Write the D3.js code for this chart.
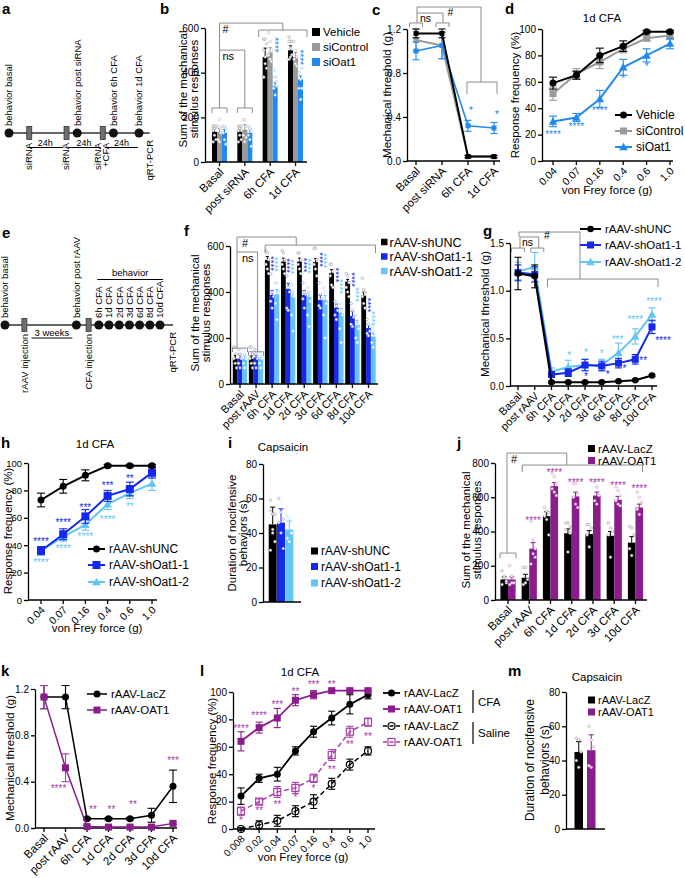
<!DOCTYPE html>
<html><head><meta charset="utf-8">
<script src="https://cdn.jsdelivr.net/npm/d3@7/dist/d3.min.js"></script>
<style>html,body{margin:0;padding:0;background:#fff;}svg{display:block}</style>
</head><body>
<svg id="fig" width="685" height="878"></svg>
<script>
// ================= DATA =================
// a: timeline
const aUpLabels = ["behavior basal","behavior post siRNA","behavior 6h CFA","behavior 1d CFA"];
const aUpSlots = [0, 3.2, 4.9, 6.1];
const aInjLabels = [["siRNA"],["siRNA"],["siRNA","+CFA"]];
const aInjSlots = [0.95, 2.7, 4.4];
const aIntervalLabels = ["24h","24h","24h"];
const aIntervalSpans = [[0.85,2.55],[2.75,4.3],[4.5,6.05]];
// e: timeline
const eUpLabels = ["behavior basal","behavior post rAAV","6h CFA","1d CFA","2d CFA","3d CFA","6d CFA","8d CFA","10d CFA"];
const eUpSlots = [0, 3.5, 4.6, 5.1, 5.6, 6.1, 6.6, 7.1, 7.6];
const eInjLabels = ["rAAV injection","CFA injection"];
const eInjSlots = [0.95, 4.1];

// b
const bCats = ["Basal","post siRNA","6h CFA","1d CFA"];
const bLegend = ["Vehicle","siControl","siOat1"];
const bVehicle = [135,135,470,500];
const bVehicleSem = [15,15,40,20];
const bSiControl = [135,145,490,470];
const bSiControlSem = [15,22,22,20];
const bSiOat1 = [130,130,340,370];
const bSiOat1Sem = [15,20,15,15];
const bVehiclePts = [[160,160,160,140,120,100,90,150],[160,160,160,140,120,100,90,150],[550,550,530,500,470,420,380,440],[560,540,540,540,510,480,460,470]];
const bSiControlPts = [[160,190,130,100,90,150],[190,190,160,120,90,110],[580,540,500,480,460,450],[540,500,470,460,440,430]];
const bSiOat1Pts = [[160,160,150,130,100,80],[160,150,140,120,100,70],[410,380,340,330,300,360],[400,370,330,330,280,420]];
const bStarVals = [524, 468];
const bStarCats = ["6h CFA","1d CFA"];

// c
const cCats = ["Basal","post siRNA","6h CFA","1d CFA"];
const cVehicle = [1.16,1.16,0.04,0.04];
const cVehicleSem = [0.04,0.04,0.01,0.01];
const cSiControl = [1.10,1.05,0.04,0.04];
const cSiControlSem = [0.10,0.12,0.01,0.01];
const cSiOat1 = [1.00,1.05,0.32,0.30];
const cSiOat1Sem = [0.08,0.12,0.05,0.05];
const cStars = ["","","*","*"];
const cStarVals = [0,0,0.48,0.45];

// d
const dCats = ["0.04","0.07","0.16","0.4","0.6","1.0"];
const dVehicle = [59,65,80,87,98,98];
const dVehicleSem = [4.5,3,5.5,4,1,1];
const dSiControl = [51,66,75,85,93,95];
const dSiControlSem = [5,4,5,3,2,3];
const dSiOat1 = [30,33,47,71,80,89];
const dSiOat1Sem = [4,3,6.5,6,5,4];
const dStars = ["****","****","****","*","*",""];
const dStarVals = [21.5,28,40,64,73,0];

// f
const fCats = ["Basal","post rAAV","6h CFA","1d CFA","2d CFA","3d CFA","6d CFA","8d CFA","10d CFA"];
const fLegend = ["rAAV-shUNC","rAAV-shOat1-1","rAAV-shOat1-2"];
const fShUNC = [110,110,539,532,532,530,482,445,384];
const fShUNCSem = [15,12,15,15,15,15,15,10,15];
const fShOat11 = [110,115,387,413,387,365,332,296,243];
const fShOat11Sem = [18,10,20,25,20,20,15,20,15];
const fShOat12 = [108,110,390,380,380,365,309,257,206];
const fShOat12Sem = [15,10,20,20,20,20,20,20,15];
const fShUNCPts = [[160,160,130,110,90,70],[160,160,130,110,90,70],[580,570,540,520,500,480],[580,570,540,520,500,480],[570,570,540,520,500,480],[590,590,540,520,500,470],[520,520,490,470,430,420],[480,470,440,420,400,380],[460,410,400,380,350,330]];
const fShOat11Pts = [[150,130,110,90,70],[150,130,110,90,70],[480,400,380,360,330],[470,420,400,330,320],[440,400,390,370,330],[440,390,370,340,330],[360,340,320,300,280],[350,320,290,260,250],[280,260,230,220,210]];
const fShOat12Pts = [[150,130,110,90,70],[140,120,110,90,70],[440,440,400,350,280],[430,400,380,300,230],[420,400,360,300,250],[420,400,350,300,200],[350,320,300,240,180],[300,260,240,200,180],[250,230,210,180,160]];
const fStarCats = ["6h CFA","1d CFA","2d CFA","3d CFA","6d CFA","8d CFA","10d CFA"];
const fStarBlueVals = [524,515,517,541,474,454,343];
const fStarLightVals = [520,510,512,536,424,389,285];

// g
const gCats = fCats;
const gShUNC = [1.18,1.15,0.04,0.04,0.04,0.04,0.05,0.06,0.11];
const gShUNCSem = [0.17,0.12,0.01,0.01,0.01,0.01,0.01,0.01,0.01];
const gShOat11 = [1.19,1.17,0.12,0.14,0.22,0.21,0.24,0.28,0.62];
const gShOat11Sem = [0.08,0.08,0.03,0.04,0.06,0.05,0.05,0.05,0.07];
const gShOat12 = [1.20,1.25,0.15,0.20,0.22,0.22,0.35,0.52,0.75];
const gShOat12Sem = [0.10,0.15,0.04,0.07,0.06,0.06,0.10,0.08,0.07];
const gLightStars = ["","","","*","*","*","***","****","****"];
const gLightStarVals = [0,0,0,0.34,0.37,0.36,0.51,0.72,0.91];
const gBlueStars = ["","","","","*","*","*","**","****"];
const gBlueStarVals = [0,0,0,0,0.125,0.14,0.2,0.29,0.5];

// h
const hCats = ["0.04","0.07","0.16","0.4","0.6","1.0"];
const hShUNC = [73,83,91,98,98,98];
const hShUNCSem = [5,5,4,1,1,1];
const hShOat11 = [36,48,61,76,81,93];
const hShOat11Sem = [3,4,5,4,5,4];
const hShOat12 = [36,46,55,70,78,85];
const hShOat12Sem = [3,3,4,4,4,5];
const hBlueStars = ["****","****","***","***","**",""];
const hBlueStarVals = [44,58,69,85,90,0];
const hLightStars = ["****","****","****","****","**",""];
const hLightStarVals = [28.5,39,47.5,60.5,70,0];

// i
const iLegend = ["rAAV-shUNC","rAAV-shOat1-1","rAAV-shOat1-2"];
const iMeans = [45,46,42];
const iSem = [10,8,5];
const iPts = [[59,51,51,53,42,35,30,40],[60,52,48,46,40,31],[50,48,40,37,35,40]];

// j
const jCats = ["Basal","post rAAV","6h CFA","1d CFA","2d CFA","3d CFA","10d CFA"];
const jLegend = ["rAAV-LacZ","rAAV-OAT1"];
const jLacZ = [120,130,490,390,385,375,335];
const jLacZSem = [15,20,25,25,20,25,35];
const jOAT1 = [120,300,665,605,610,585,540];
const jOAT1Sem = [15,35,20,25,20,20,20];
const jLacZPts = [[170,130,100,90,140,110],[190,190,120,90,100],[540,520,510,490,470,380],[450,450,430,410,280,390],[440,440,420,380,310],[450,420,400,380,250],[430,420,380,300,260]];
const jOAT1Pts = [[200,140,100,90,100],[460,350,250,210,270,300],[740,720,680,650,630,610],[680,680,620,600,560,540],[690,660,610,580,560],[660,640,610,580,560,550],[630,600,570,530,500]];
const jStars = ["","****","****","****","****","****","****"];
const jStarVals = [0,478,759,700,700,683,660];

// k
const kCats = ["Basal","post rAAV","6h CFA","1d CFA","2d CFA","3d CFA","10d CFA"];
const kLacZ = [1.13,1.13,0.08,0.08,0.08,0.11,0.36];
const kLacZSem = [0.10,0.10,0.01,0.01,0.01,0.06,0.14];
const kOAT1 = [1.13,0.52,0.012,0.008,0.008,0.008,0.04];
const kOAT1Sem = [0.10,0.12,0.01,0.01,0.01,0.01,0.01];
const kStars = ["","****","**","**","**","","***"];
const kStarVals = [0,0.354,0.18,0.18,0.216,0,0.6];
const kStarDx = [0,-7,6,3,3,0,0];

// l
const lCats = ["0.008","0.02","0.04","0.07","0.16","0.4","0.6","1.0"];
const lLacZCFA = [24,37,40,57,71,81,91,98];
const lLacZCFASem = [6,3,5,3,4,5,7,3];
const lOAT1CFA = [64,74,81,94,98,101,101,101];
const lOAT1CFASem = [7,4,7,4,3,1,1,1];
const lLacZSaline = [0,3,6,13,20,33,47,57];
const lLacZSalineSem = [1,3,4,4,5,4,4,3];
const lOAT1Saline = [13,20,27,30,37,54,71,78];
const lOAT1SalineSem = [3,2,4,4,3,4,4,3];
const lTopStars = ["****","****","***","**","***","**","",""];
const lTopStarVals = [74.5,84,92,101.5,106.6,106.6,0,0];
const lBotStars = ["*","**","**","*","*","**","**","**"];
const lBotStarVals = [8,14.6,19.7,24.8,30.7,45,63,69];

// m
const mLegend = ["rAAV-LacZ","rAAV-OAT1"];
const mMeans = [45,46];
const mSem = [6,9];
const mPts = [[53,52,45,40,36],[60,52,48,37,36]];

// ================= HELPERS =================
const svg = d3.select("#fig");
const FONT = '"Liberation Sans", Arial, Helvetica, sans-serif';
const BLACK="#000", GRAY="#9a9a9a", BLUE="#2289f0", DBLUE="#1428ee", LBLUE="#62c6f5",
      PURPLE="#8b1c8b", LPURPLE="#a840a8", BRK="#8c8c8c";

function T(x, y, s, fs, opt) {
  opt = opt || {};
  const t = svg.append("text").attr("x", x).attr("y", y).text(s)
    .attr("font-family", FONT).attr("font-size", fs)
    .attr("fill", opt.fill || BLACK).attr("text-anchor", opt.anchor || "start");
  if (opt.bold) t.attr("font-weight", "bold");
  return t;
}
function RT(cx, cy, s, fs, anchor, rot, fill) {
  return svg.append("text").attr("transform", `translate(${cx},${cy}) rotate(${rot == null ? -90 : rot})`)
    .attr("dy", "0.35em").attr("text-anchor", anchor || "middle")
    .attr("font-family", FONT).attr("font-size", fs).attr("fill", fill || BLACK).text(s);
}
function L(x1, y1, x2, y2, color, w, dash) {
  const l = svg.append("line").attr("x1", x1).attr("y1", y1).attr("x2", x2).attr("y2", y2)
    .attr("stroke", color || BLACK).attr("stroke-width", w || 1);
  if (dash) l.attr("stroke-dasharray", dash);
  return l;
}
function P(d, color, w) {
  return svg.append("path").attr("d", d).attr("fill", "none").attr("stroke", color || BRK).attr("stroke-width", w || 1);
}
function bracket(x1, x2, yy, tick, color) {
  P(`M${x1},${yy + tick}V${yy}H${x2}V${yy + tick}`, color || BRK, 1);
}
function yAxis(x0, y, ticks, fmt, fs) {
  const g = svg.append("g").attr("transform", `translate(${x0},0)`)
    .call(d3.axisLeft(y).tickValues(ticks).tickFormat(d3.format(fmt)).tickSize(4).tickSizeOuter(0).tickPadding(2));
  g.attr("font-family", FONT).attr("font-size", fs || 10);
  g.select(".domain").attr("stroke-width", 1.3);
  g.selectAll(".tick line").attr("stroke-width", 1.3);
}
function xAxis(x, y0, xa, xb, cats, fs) {
  L(xa, y0, xb, y0, BLACK, 1.3);
  if (!cats) return;
  cats.forEach(c => {
    const px = x(c);
    L(px, y0, px, y0 + 4, BLACK, 1.3);
    RT(px + 2, y0 + 8, c, fs, "end", -45);
  });
}
function yLabel(lines, xLast, cy, fs, gap) {
  const n = lines.length;
  lines.forEach((s, i) => RT(xLast - (n - 1 - i) * gap, cy, s, fs, "middle", -90));
}
function marker(type, cx, cy, sz, color, open) {
  let el;
  if (type === "circle") el = svg.append("circle").attr("cx", cx).attr("cy", cy).attr("r", sz / 2);
  else if (type === "square") el = svg.append("rect").attr("x", cx - sz / 2).attr("y", cy - sz / 2).attr("width", sz).attr("height", sz);
  else el = svg.append("path").attr("d", d3.symbol(d3.symbolTriangle, sz * sz * 0.5)()).attr("transform", `translate(${cx},${cy + 0.8})`);
  if (open) el.attr("fill", "none").attr("stroke", color).attr("stroke-width", 1.2);
  else el.attr("fill", color);
  return el;
}
function lineSeries(x, y, cats, vals, errs, o) {
  const pts = cats.map((c, i) => [x(c), y(vals[i])]);
  const p = svg.append("path").attr("d", d3.line()(pts)).attr("fill", "none")
    .attr("stroke", o.color).attr("stroke-width", o.lw || 2);
  if (o.dash) p.attr("stroke-dasharray", o.dash);
  const cw = o.cap || 7;
  cats.forEach((c, i) => {
    const px = x(c), v = vals[i], e = errs[i];
    if (e > 0) {
      L(px, y(v - e), px, y(v + e), o.ecolor || o.color, 1.1);
      L(px - cw / 2, y(v + e), px + cw / 2, y(v + e), o.ecolor || o.color, 1.1);
      L(px - cw / 2, y(v - e), px + cw / 2, y(v - e), o.ecolor || o.color, 1.1);
    }
  });
  cats.forEach((c, i) => marker(o.mk, x(c), y(vals[i]), o.sz || 7, o.color, o.open));
}
function legendLine(x1, x2, yy, label, fs, o) {
  const l = L(x1, yy, x2, yy, o.color, o.lw || 2);
  if (o.dash) l.attr("stroke-dasharray", o.dash);
  marker(o.mk, (x1 + x2) / 2, yy, o.sz || 7, o.color, o.open);
  T(x2 + 4, yy + fs * 0.36, label, fs);
}
function legendSq(x, yy, sz, color, label, fs, gap) {
  svg.append("rect").attr("x", x).attr("y", yy - sz / 2).attr("width", sz).attr("height", sz).attr("fill", color);
  T(x + sz + (gap || 3), yy + fs * 0.36, label, fs);
}
function bars(x, y, cats, series, bw, step) {
  const n = series.length;
  series.forEach((s, i) => {
    const off = (i - (n - 1) / 2) * step;
    cats.forEach((c, j) => {
      const cx = x(c) + off, v = s.vals[j], e = s.err[j];
      svg.append("rect").attr("x", cx - bw / 2).attr("y", y(v)).attr("width", bw)
        .attr("height", y(0) - y(v)).attr("fill", s.color);
      L(cx, y(v), cx, y(v + e), s.color, 1);
      L(cx - bw * 0.32, y(v + e), cx + bw * 0.32, y(v + e), s.color, 1);
      if (s.pts) s.pts[j].forEach((p, k) => {
        const dx = ((k % 3) - 1) * bw * 0.28;
        svg.append("circle").attr("cx", cx + dx).attr("cy", y(p)).attr("r", 1.3)
          .attr("fill", "#fff").attr("stroke", s.pc).attr("stroke-width", 0.6);
      });
    });
  });
}
function stars(x, y, cats, labels, vals, color, fs, dx) {
  labels.forEach((s, i) => {
    if (!s) return;
    T(x(cats[i]) + (dx ? dx[i] : 0), y(vals[i]) + fs * 0.55, s, fs, { fill: color, anchor: "middle" });
  });
}
function vstars(cx, cy, s, color, fs) {
  svg.append("text").attr("transform", `translate(${cx},${cy}) rotate(90)`).attr("dy", "0.55em")
    .attr("text-anchor", "middle").attr("font-family", FONT).attr("font-size", fs).attr("fill", color).text(s);
}
function panelLabel(s, x, y) { T(x, y, s, 15, { bold: true }); }

// ================= PANEL a =================
panelLabel("a", 2, 14);
(function () {
  const ax = d3.scaleLinear().domain([0, 6.1]).range([9, 139]);
  const yy = 133;
  L(ax(0), yy, ax(6.6), yy, "#333", 1.5);
  aIntervalSpans.forEach((s, i) => {
    L(ax(s[0]), yy + 14.5, ax(s[1]), yy + 14.5, BLACK, 1.2);
    T((ax(s[0]) + ax(s[1])) / 2, yy + 12.5, aIntervalLabels[i], 9, { anchor: "middle" });
  });
  aInjSlots.forEach((t, i) => {
    svg.append("rect").attr("x", ax(t) - 2.5).attr("y", yy - 6.5).attr("width", 5).attr("height", 13)
      .attr("fill", "#6f6f6f").attr("stroke", "#333").attr("stroke-width", 0.8);
    const lines = aInjLabels[i];
    lines.forEach((s, k) => RT(ax(t) - 1 + (k - (lines.length - 1) / 2) * 8, yy + 10, s, 9.5, "end"));
  });
  aUpSlots.forEach((t, i) => {
    svg.append("circle").attr("cx", ax(t)).attr("cy", yy).attr("r", 4.5).attr("fill", "#111");
    RT(ax(t), yy - 7, aUpLabels[i], 9.5, "start");
  });
  RT(ax(6.6), yy + 7, "qRT-PCR", 9.5, "end");
})();

// ================= PANEL b =================
panelLabel("b", 160, 14);
(function () {
  const x = d3.scalePoint().domain(bCats).range([219.5, 295.5]);
  const y = d3.scaleLinear().domain([0, 600]).range([162, 28]);
  bars(x, y, bCats, [
    { vals: bVehicle, err: bVehicleSem, color: BLACK, pts: bVehiclePts, pc: "#999" },
    { vals: bSiControl, err: bSiControlSem, color: GRAY, pts: bSiControlPts, pc: "#bbb" },
    { vals: bSiOat1, err: bSiOat1Sem, color: BLUE, pts: bSiOat1Pts, pc: "#8cc4fa" }
  ], 5, 5);
  yAxis(205, y, [0, 200, 400, 600], "d", 10);
  xAxis(x, 162, 205, 307, bCats, 11.5);
  yLabel(["Sum of the mechanical", "stimulus responses"], 194, 89, 11.5, 11);
  bStarCats.forEach((c, i) => vstars(x(c) + 6, y(bStarVals[i]), "****", BLUE, 10));
  // brackets
  bracket(x("Basal") - 7.5, x("Basal") + 7.5, y(242), 5);
  bracket(x("post siRNA") - 7.5, x("post siRNA") + 7.5, y(242), 5);
  P(`M${x("Basal")},${y(242)}V${y(501)}H${x("post siRNA")}V${y(242)}`);
  T(x("Basal") + 3, y(501) + 10, "ns", 11);
  const mid = (x("6h CFA") + x("1d CFA")) / 2;
  P(`M${x("Basal")},${y(501)}V${y(622)}H${mid}V${y(591)}`);
  T(x("Basal") + 3, y(622) + 10, "#", 11);
  bracket(x("6h CFA") - 11.5, x("1d CFA") + 11.5, y(591), 7);
  legendSq(312, 32, 8, BLACK, bLegend[0], 11.5, 3);
  legendSq(312, 47, 8, GRAY, bLegend[1], 11.5, 3);
  legendSq(312, 62, 8, BLUE, bLegend[2], 11.5, 3);
})();

// ================= PANEL c =================
panelLabel("c", 372, 15);
(function () {
  const x = d3.scalePoint().domain(cCats).range([416, 494]);
  const y = d3.scaleLinear().domain([0, 1.2]).range([161, 29]);
  yAxis(407, y, [0, 0.4, 0.8, 1.2], ".1f", 10);
  xAxis(x, 161, 407, 500, cCats, 11.5);
  yLabel(["Mechanical threshold (g)"], 387, 95, 11.5, 11);
  lineSeries(x, y, cCats, cSiControl, cSiControlSem, { color: GRAY, mk: "square", sz: 5, lw: 2, cap: 7 });
  lineSeries(x, y, cCats, cSiOat1, cSiOat1Sem, { color: BLUE, mk: "square", sz: 5, lw: 1.6, cap: 7 });
  lineSeries(x, y, cCats, cVehicle, cVehicleSem, { color: BLACK, mk: "square", sz: 5, lw: 2, cap: 7 });
  stars(x, y, cCats, cStars, cStarVals, BLUE, 11, [0, 0, 3, 3]);
  bracket(x("Basal") - 6.5, x("Basal") + 6.5, y(1.255), 4);
  bracket(x("post siRNA") - 6, x("post siRNA") + 7, y(1.255), 4);
  P(`M${x("Basal") + 1},${y(1.255)}V${y(1.345)}H${x("post siRNA") + 1}V${y(1.255)}`);
  T(x("Basal") + 4, y(1.345) + 9, "ns", 10.5);
  const mid = (x("6h CFA") + x("1d CFA")) / 2;
  P(`M${x("Basal") + 1},${y(1.345)}V${y(1.4)}H${mid}V${y(0.718)}`);
  T((x("Basal") + mid) / 2 + 2, y(1.4) + 9, "#", 10.5, { anchor: "middle" });
  bracket(x("6h CFA") - 1, x("1d CFA") + 3, y(0.718), 12);
})();

// ================= PANEL d =================
panelLabel("d", 505, 14);
(function () {
  const x = d3.scalePoint().domain(dCats).range([553, 670]);
  const y = d3.scaleLinear().domain([0, 100]).range([161, 29]);
  T(602, 22, "1d CFA", 11.5, { anchor: "middle" });
  yAxis(542, y, [0, 20, 40, 60, 80, 100], "d", 10);
  xAxis(x, 161, 542, 673, dCats, 10.5);
  yLabel(["Response frequency (%)"], 515, 95, 11.5, 11);
  T(607, 194, "von Frey force (g)", 11.5, { anchor: "middle" });
  lineSeries(x, y, dCats, dSiControl, dSiControlSem, { color: GRAY, mk: "square", sz: 7, lw: 2, cap: 8 });
  lineSeries(x, y, dCats, dVehicle, dVehicleSem, { color: BLACK, mk: "circle", sz: 7, lw: 2, cap: 8 });
  lineSeries(x, y, dCats, dSiOat1, dSiOat1Sem, { color: BLUE, mk: "triangle", sz: 8, lw: 2, cap: 8 });
  stars(x, y, dCats, dStars, dStarVals, BLUE, 10);
  legendLine(615, 632, 115, "Vehicle", 12, { color: BLACK, mk: "circle", sz: 7 });
  legendLine(615, 632, 131, "siControl", 12, { color: GRAY, mk: "square", sz: 7 });
  legendLine(615, 632, 147, "siOat1", 12, { color: BLUE, mk: "triangle", sz: 8 });
})();

// ================= PANEL e =================
panelLabel("e", 2, 238);
(function () {
  const ex = d3.scaleLinear().domain([0, 7.6]).range([5, 160]);
  const yy = 325;
  L(ex(0), yy, ex(8.24), yy, "#333", 1.5);
  eInjSlots.forEach((t, i) => {
    svg.append("rect").attr("x", ex(t) - 2.5).attr("y", yy - 6.5).attr("width", 5).attr("height", 13)
      .attr("fill", "#6f6f6f").attr("stroke", "#333").attr("stroke-width", 0.8);
    RT(ex(t), yy + 9, eInjLabels[i], 9.5, "end");
  });
  eUpSlots.forEach((t, i) => {
    svg.append("circle").attr("cx", ex(t)).attr("cy", yy).attr("r", 4.5).attr("fill", "#111");
    RT(ex(t), yy - 7, eUpLabels[i], 9.5, "start");
  });
  RT(ex(8.24), yy + 7, "qRT-PCR", 9.5, "end");
  L(ex(1.3), yy + 13, ex(3.3), yy + 13, BLACK, 1.2);
  T((ex(1.3) + ex(3.3)) / 2, yy + 10.5, "3 weeks", 9.5, { anchor: "middle" });
  L(ex(4.53), 279.5, ex(7.75), 279.5, BLACK, 1.2);
  T((ex(4.53) + ex(7.75)) / 2, 276, "behavior", 9.5, { anchor: "middle" });
})();

// ================= PANEL f =================
panelLabel("f", 184, 236);
(function () {
  const x = d3.scalePoint().domain(fCats).range([240, 368.5]);
  const y = d3.scaleLinear().domain([0, 600]).range([384, 246]);
  bars(x, y, fCats, [
    { vals: fShUNC, err: fShUNCSem, color: BLACK, pts: fShUNCPts, pc: "#999" },
    { vals: fShOat11, err: fShOat11Sem, color: DBLUE, pts: fShOat11Pts, pc: "#8c95f5" },
    { vals: fShOat12, err: fShOat12Sem, color: LBLUE, pts: fShOat12Pts, pc: "#a8dcf7" }
  ], 4.8, 4.8);
  yAxis(230, y, [0, 200, 400, 600], "d", 10);
  xAxis(x, 384, 230, 378, fCats, 11);
  yLabel(["Sum of the mechanical", "stimulus responses"], 206, 313, 11.5, 11);
  fStarCats.forEach((c, i) => {
    vstars(x(c) + 1.5, y(fStarBlueVals[i]), "****", DBLUE, 9.5);
    vstars(x(c) + 5.5, y(fStarLightVals[i]), "****", LBLUE, 9.5);
  });
  bracket(x("Basal") - 7.5, x("Basal") + 7.5, y(156), 4);
  bracket(x("post rAAV") - 7.5, x("post rAAV") + 7.5, y(140), 4);
  P(`M${x("Basal") - 3},${y(156)}V${y(574)}H${x("post rAAV") + 1.5}V${y(140)}`);
  T(x("Basal") + 2, y(574) + 10, "ns", 11);
  const mid = (x("1d CFA") + x("2d CFA")) / 2;
  P(`M${x("Basal") - 3},${y(574)}V${y(639)}H${mid}V${y(604)}`);
  T(x("Basal") + 2, y(639) + 10, "#", 11);
  bracket(x("6h CFA") - 7, x("10d CFA") + 7, y(604), 8);
  legendSq(381, 242, 6.5, BLACK, fLegend[0], 12.5, 2);
  legendSq(381, 256.5, 6.5, DBLUE, fLegend[1], 12.5, 2);
  legendSq(381, 271, 6.5, LBLUE, fLegend[2], 12.5, 2);
})();

// ================= PANEL g =================
panelLabel("g", 483, 236);
(function () {
  const x = d3.scalePoint().domain(gCats).range([518, 652]);
  const y = d3.scaleLinear().domain([0, 1.5]).range([386, 243]);
  yAxis(510, y, [0, 0.5, 1.0, 1.5], ".1f", 10);
  xAxis(x, 386, 510, 657, gCats, 11);
  yLabel(["Mechanical threshold (g)"], 485, 314, 11.5, 11);
  lineSeries(x, y, gCats, gShOat12, gShOat12Sem, { color: LBLUE, mk: "triangle", sz: 8, lw: 2, cap: 7 });
  lineSeries(x, y, gCats, gShOat11, gShOat11Sem, { color: DBLUE, mk: "square", sz: 7, lw: 2, cap: 7 });
  lineSeries(x, y, gCats, gShUNC, gShUNCSem, { color: BLACK, mk: "circle", sz: 6.5, lw: 2, cap: 7 });
  stars(x, y, gCats, gLightStars, gLightStarVals, LBLUE, 10, [0, 0, 0, 1, 1, 0, -1, 0, 2]);
  stars(x, y, gCats, gBlueStars, gBlueStarVals, DBLUE, 10, [0, 0, 0, 0, 1, 6, 6, 8, 11]);
  bracket(x("Basal") - 6.5, x("Basal") + 6.5, y(1.447), 4);
  bracket(x("post rAAV") - 4, x("post rAAV") + 9, y(1.447), 4);
  P(`M${x("Basal") + 2},${y(1.447)}V${y(1.563)}H${x("post rAAV") + 4}V${y(1.447)}`);
  T(x("Basal") + 4, y(1.563) + 9, "ns", 10.5);
  const xr = x("1d CFA") + (x("2d CFA") - x("1d CFA")) * 0.7;
  P(`M${x("Basal") + 1},${y(1.563)}V${y(1.615)}H${xr}V${y(1.122)}`);
  T(x("Basal") + 26, y(1.615) + 7, "#", 10.5);
  bracket(x("6h CFA") - 4, x("10d CFA") + 6, y(1.122), 8);
  legendLine(580, 601, 229, "rAAV-shUNC", 11.5, { color: BLACK, mk: "circle", sz: 6.5 });
  legendLine(580, 601, 245, "rAAV-shOat1-1", 11.5, { color: DBLUE, mk: "square", sz: 7 });
  legendLine(580, 601, 262, "rAAV-shOat1-2", 11.5, { color: LBLUE, mk: "triangle", sz: 8 });
})();

// ================= PANEL h =================
panelLabel("h", 1, 448);
(function () {
  const x = d3.scalePoint().domain(hCats).range([41, 152]);
  const y = d3.scaleLinear().domain([0, 100]).range([600, 463]);
  T(95, 448, "1d CFA", 11.5, { anchor: "middle" });
  yAxis(28, y, [0, 20, 40, 60, 80, 100], "d", 9.5);
  xAxis(x, 600, 28, 157, hCats, 10.5);
  yLabel(["Response frequency (%)"], 8, 531, 11.5, 11);
  T(97, 632, "von Frey force (g)", 11.5, { anchor: "middle" });
  lineSeries(x, y, hCats, hShOat12, hShOat12Sem, { color: LBLUE, mk: "triangle", sz: 8, lw: 2, cap: 8 });
  lineSeries(x, y, hCats, hShOat11, hShOat11Sem, { color: DBLUE, mk: "square", sz: 8, lw: 2, cap: 8 });
  lineSeries(x, y, hCats, hShUNC, hShUNCSem, { color: BLACK, mk: "circle", sz: 7, lw: 2, cap: 8 });
  stars(x, y, hCats, hBlueStars, hBlueStarVals, DBLUE, 10);
  stars(x, y, hCats, hLightStars, hLightStarVals, LBLUE, 10);
  legendLine(88, 105, 549, "rAAV-shUNC", 12, { color: BLACK, mk: "circle", sz: 7 });
  legendLine(88, 105, 565, "rAAV-shOat1-1", 12, { color: DBLUE, mk: "square", sz: 8 });
  legendLine(88, 105, 582, "rAAV-shOat1-2", 12, { color: LBLUE, mk: "triangle", sz: 8 });
})();

// ================= PANEL i =================
panelLabel("i", 228, 448);
(function () {
  const x = d3.scalePoint().domain(["Capsaicin"]).range([281, 281]);
  const y = d3.scaleLinear().domain([0, 80]).range([602, 464]);
  T(283, 451, "Capsaicin", 11.5, { anchor: "middle" });
  bars(x, y, ["Capsaicin"], [
    { vals: [iMeans[0]], err: [iSem[0]], color: BLACK, pts: [iPts[0]], pc: "#999" },
    { vals: [iMeans[1]], err: [iSem[1]], color: DBLUE, pts: [iPts[1]], pc: "#8c95f5" },
    { vals: [iMeans[2]], err: [iSem[2]], color: LBLUE, pts: [iPts[2]], pc: "#a8dcf7" }
  ], 8, 8.3);
  yAxis(263, y, [0, 20, 40, 60, 80], "d", 10);
  xAxis(x, 602, 263, 301, null, 10);
  yLabel(["Duration of nocifensive", "behaviors (s)"], 243, 533, 11.5, 11);
  legendSq(311, 551, 7, BLACK, iLegend[0], 12, 3);
  legendSq(311, 566.5, 7, DBLUE, iLegend[1], 12, 3);
  legendSq(311, 583, 7, LBLUE, iLegend[2], 12, 3);
})();

// ================= PANEL j =================
panelLabel("j", 457, 448);
(function () {
  const x = d3.scalePoint().domain(jCats).range([508, 635.5]);
  const y = d3.scaleLinear().domain([0, 800]).range([600, 463]);
  bars(x, y, jCats, [
    { vals: jLacZ, err: jLacZSem, color: BLACK, pts: jLacZPts, pc: "#999" },
    { vals: jOAT1, err: jOAT1Sem, color: PURPLE, pts: jOAT1Pts, pc: "#cf8fcf" }
  ], 7.6, 7.6);
  yAxis(495, y, [0, 200, 400, 600, 800], "d", 10);
  xAxis(x, 600, 495, 647, jCats, 11.5);
  yLabel(["Sum of the mechanical", "stimulus responses"], 477, 530, 11.5, 11);
  stars(x, y, jCats, jStars, jStarVals, LPURPLE, 10, jCats.map(() => 3.8));
  bracket(x("Basal") - 8, x("Basal") + 8, y(274), 5);
  P(`M${x("Basal") - 1},${y(274)}V${y(858)}H${x("1d CFA") - 5}V${y(788)}`);
  T(x("Basal") + 3, y(858) + 10, "#", 11);
  bracket(x("post rAAV") - 7, x("10d CFA") + 7, y(788), 7);
  legendSq(588, 448.5, 7, BLACK, jLegend[0], 11.5, 3);
  legendSq(588, 460.5, 7, PURPLE, jLegend[1], 11.5, 3);
})();

// ================= PANEL k =================
panelLabel("k", 1, 676);
(function () {
  const x = d3.scalePoint().domain(kCats).range([44, 173]);
  const y = d3.scaleLinear().domain([0, 1.2]).range([828, 689]);
  yAxis(35, y, [0, 0.4, 0.8, 1.2], ".1f", 10);
  xAxis(x, 828, 35, 177, kCats, 11.5);
  yLabel(["Mechanical threshold (g)"], 10, 758, 11.5, 11);
  lineSeries(x, y, kCats, kLacZ, kLacZSem, { color: BLACK, mk: "circle", sz: 7, lw: 1.5, cap: 8 });
  lineSeries(x, y, kCats, kOAT1, kOAT1Sem, { color: PURPLE, mk: "square", sz: 7, lw: 1.5, cap: 8, ecolor: LPURPLE });
  stars(x, y, kCats, kStars, kStarVals, LPURPLE, 10, kStarDx);
  legendLine(87, 107, 694, "rAAV-LacZ", 11.5, { color: BLACK, mk: "circle", sz: 7, lw: 1.5 });
  legendLine(87, 107, 710, "rAAV-OAT1", 11.5, { color: PURPLE, mk: "square", sz: 7, lw: 1.5 });
})();

// ================= PANEL l =================
panelLabel("l", 200, 676);
(function () {
  const x = d3.scalePoint().domain(lCats).range([241, 368]);
  const y = d3.scaleLinear().domain([0, 100]).range([829, 692]);
  T(300, 676, "1d CFA", 11.5, { anchor: "middle" });
  yAxis(233, y, [0, 20, 40, 60, 80, 100], "d", 10);
  xAxis(x, 829, 233, 375, lCats, 10);
  yLabel(["Response frequency (%)"], 212, 761, 11.5, 11);
  T(303, 861, "von Frey force (g)", 11.5, { anchor: "middle" });
  lineSeries(x, y, lCats, lLacZSaline, lLacZSalineSem, { color: BLACK, mk: "circle", sz: 7, lw: 1.5, cap: 7, dash: "5,3", open: true });
  lineSeries(x, y, lCats, lOAT1Saline, lOAT1SalineSem, { color: LPURPLE, mk: "square", sz: 7, lw: 1.5, cap: 7, dash: "5,3", open: true });
  lineSeries(x, y, lCats, lLacZCFA, lLacZCFASem, { color: BLACK, mk: "circle", sz: 7, lw: 1.8, cap: 7 });
  lineSeries(x, y, lCats, lOAT1CFA, lOAT1CFASem, { color: PURPLE, mk: "square", sz: 7, lw: 1.8, cap: 7 });
  stars(x, y, lCats, lTopStars, lTopStarVals, LPURPLE, 10);
  stars(x, y, lCats, lBotStars, lBotStarVals, LPURPLE, 10);
  legendLine(383, 400, 693, "rAAV-LacZ", 11.5, { color: BLACK, mk: "circle", sz: 7, lw: 1.8 });
  legendLine(383, 400, 709, "rAAV-OAT1", 11.5, { color: PURPLE, mk: "square", sz: 7, lw: 1.8 });
  legendLine(383, 400, 726, "rAAV-LacZ", 11.5, { color: BLACK, mk: "circle", sz: 7, lw: 1.5, dash: "4,2.5", open: true });
  legendLine(383, 400, 742, "rAAV-OAT1", 11.5, { color: LPURPLE, mk: "square", sz: 7, lw: 1.5, dash: "4,2.5", open: true });
  L(473, 690, 473, 713, BLACK, 1.2);
  T(478, 706, "CFA", 11.5);
  L(473, 722, 473, 744, BLACK, 1.2);
  T(478, 737, "Saline", 11.5);
})();

// ================= PANEL m =================
panelLabel("m", 508, 676);
(function () {
  const x = d3.scalePoint().domain(["Capsaicin"]).range([585, 585]);
  const y = d3.scaleLinear().domain([0, 80]).range([829, 692]);
  T(597, 681, "Capsaicin", 11.5, { anchor: "middle" });
  bars(x, y, ["Capsaicin"], [
    { vals: [mMeans[0]], err: [mSem[0]], color: BLACK, pts: [mPts[0]], pc: "#999" },
    { vals: [mMeans[1]], err: [mSem[1]], color: PURPLE, pts: [mPts[1]], pc: "#cf8fcf" }
  ], 8.5, 12.5);
  yAxis(566, y, [0, 20, 40, 60, 80], "d", 10);
  xAxis(x, 829, 566, 605, null, 10);
  yLabel(["Duration of nocifensive", "behaviors (s)"], 545, 760, 12, 15);
  legendSq(588, 700, 7, BLACK, mLegend[0], 11, 3);
  legendSq(588, 712, 7, PURPLE, mLegend[1], 11, 3);
})();
</script>
</body></html>
